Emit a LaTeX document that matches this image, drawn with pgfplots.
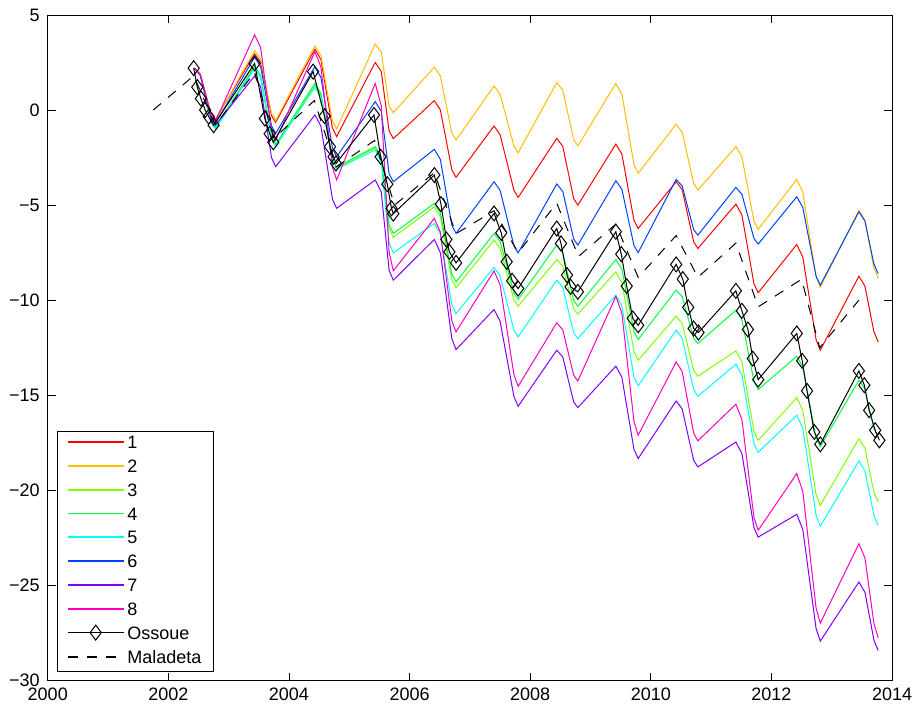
\documentclass[border=0pt]{standalone}
\usepackage{fontspec}
\setmainfont{Liberation Sans}
\usepackage{pgfplots}
\usepackage{pgfplotstable}
\pgfplotsset{compat=1.18}

\definecolor{c1}{rgb}{1,0,0}
\definecolor{c2}{rgb}{1,0.75,0}
\definecolor{c3}{rgb}{0.5,1,0}
\definecolor{c4}{rgb}{0,1,0.25}
\definecolor{c5}{rgb}{0,1,1}
\definecolor{c6}{rgb}{0,0.25,1}
\definecolor{c7}{rgb}{0.5,0,1}
\definecolor{c8}{rgb}{1,0,0.75}

% zones 1..8: peak, shoulder, pre-min, min for each year
\pgfplotstableread{
x r o yg g c b p m
2002.43 2.2 2.2 2.2 2.2 2.2 2.2 2.2 2.2
2002.53 1.88 1.87 1.82 1.83 1.82 1.85 1.84 1.86
2002.71 -0.23 -0.28 -0.64 -0.59 -0.68 -0.41 -0.5 -0.32
2002.78 -0.5 -0.55 -0.95 -0.9 -1.0 -0.7 -0.8 -0.6
2003.43 2.95 3.12 2.2 2.3 2.2 2.77 1.79 3.95
2003.53 2.52 2.68 1.71 1.81 1.71 2.29 1.22 3.28
2003.71 -0.29 -0.18 -1.49 -1.39 -1.49 -0.83 -2.5 -1.05
2003.78 -0.65 -0.55 -1.9 -1.8 -1.9 -1.23 -2.98 -1.6
2004.43 3.2 3.37 1.3 1.4 1.2 2.28 -0.26 3.07
2004.53 2.65 2.85 0.78 0.87 0.68 1.71 -0.85 2.26
2004.72 -0.94 -0.56 -2.62 -2.56 -2.67 -1.99 -4.68 -3.0
2004.79 -1.4 -1.0 -3.06 -3.0 -3.1 -2.46 -5.17 -3.68
2005.43 2.5 3.47 -2.0 -1.93 -2.1 0.44 -3.68 1.4
2005.53 2.02 3.04 -2.56 -2.48 -2.75 -0.07 -4.31 0.22
2005.66 -1.1 0.22 -6.23 -6.03 -6.97 -3.35 -8.42 -7.47
2005.73 -1.5 -0.14 -6.7 -6.49 -7.51 -3.77 -8.95 -8.46
2006.41 0.49 2.25 -5.09 -4.91 -5.96 -2.07 -6.81 -5.7
2006.51 0.01 1.79 -5.6 -5.41 -6.53 -2.6 -7.5 -6.42
2006.70 -3.14 -1.2 -8.92 -8.63 -10.23 -6.05 -12.02 -11.07
2006.77 -3.54 -1.58 -9.35 -9.04 -10.7 -6.49 -12.6 -11.67
2007.40 -0.84 1.26 -6.84 -6.49 -8.28 -3.77 -10.49 -8.46
2007.50 -1.29 0.84 -7.26 -6.91 -8.72 -4.22 -11.1 -9.19
2007.73 -4.22 -1.9 -9.97 -9.61 -11.57 -7.14 -15.07 -13.92
2007.80 -4.6 -2.25 -10.32 -9.96 -11.93 -7.51 -15.58 -14.53
2008.44 -1.49 1.44 -7.86 -7.1 -8.95 -3.89 -12.63 -11.19
2008.54 -1.91 1.04 -8.21 -7.49 -9.32 -4.28 -12.99 -11.56
2008.72 -4.65 -1.56 -10.45 -10.0 -11.71 -6.78 -15.35 -13.94
2008.79 -5.0 -1.89 -10.74 -10.32 -12.02 -7.1 -15.65 -14.25
2009.42 -1.79 1.4 -8.51 -7.86 -9.74 -3.72 -13.47 -9.8
2009.52 -2.32 0.83 -9.07 -8.37 -10.31 -4.17 -14.05 -10.68
2009.72 -5.79 -2.86 -12.70 -11.65 -14.02 -7.12 -17.84 -16.37
2009.79 -6.23 -3.33 -13.16 -12.07 -14.5 -7.5 -18.33 -17.1
2010.42 -3.77 -0.75 -10.84 -9.47 -11.58 -3.65 -15.3 -13.25
2010.52 -4.19 -1.17 -11.22 -9.81 -12.0 -4.0 -15.72 -13.75
2010.71 -6.93 -3.86 -13.68 -12.0 -14.7 -6.29 -18.42 -16.99
2010.78 -7.28 -4.21 -14.0 -12.28 -15.05 -6.58 -18.77 -17.4
2011.41 -4.95 -1.93 -12.67 -10.53 -13.37 -4.07 -17.46 -15.47
2011.51 -5.51 -2.45 -13.23 -11.03 -13.93 -4.43 -18.06 -16.27
2011.71 -9.14 -5.85 -16.9 -14.28 -17.54 -6.75 -21.96 -21.44
2011.78 -9.61 -6.28 -17.37 -14.7 -18.0 -7.05 -22.46 -22.1
2012.42 -7.07 -3.65 -15.12 -12.95 -16.05 -4.56 -21.26 -19.12
2012.52 -7.74 -4.33 -15.80 -13.52 -16.75 -5.12 -22.06 -20.06
2012.74 -12.07 -8.76 -20.22 -17.23 -21.31 -8.74 -27.26 -26.19
2012.81 -12.63 -9.33 -20.79 -17.7 -21.89 -9.21 -27.93 -26.98
2013.45 -8.74 -5.26 -17.28 -14.21 -18.46 -5.35 -24.82 -22.81
2013.55 -9.26 -5.80 -17.78 -14.66 -18.97 -5.84 -25.36 -23.55
2013.70 -11.67 -8.32 -20.11 -16.75 -21.33 -8.11 -27.88 -27.01
2013.77 -12.19 -8.86 -20.61 -17.2 -21.84 -8.6 -28.42 -27.75
}\zones

\pgfplotstableread{
x y
2002.42 2.2
2002.48 1.2
2002.54 0.6
2002.61 0.0
2002.67 -0.35
2002.75 -0.8
2003.43 2.45
2003.60 -0.45
2003.68 -1.25
2003.74 -1.7
2004.40 2.02
2004.59 -0.32
2004.68 -1.93
2004.74 -2.46
2004.78 -2.81
2005.41 -0.26
2005.52 -2.46
2005.63 -3.9
2005.70 -5.17
2005.73 -5.45
2006.41 -3.42
2006.52 -4.95
2006.61 -6.81
2006.66 -7.46
2006.77 -8.04
2007.40 -5.44
2007.52 -6.46
2007.61 -7.98
2007.70 -8.98
2007.80 -9.39
2008.44 -6.23
2008.51 -7.02
2008.61 -8.68
2008.67 -9.3
2008.79 -9.56
2009.42 -6.4
2009.51 -7.58
2009.60 -9.26
2009.70 -10.96
2009.79 -11.32
2010.42 -8.12
2010.53 -8.89
2010.62 -10.38
2010.71 -11.49
2010.79 -11.70
2011.41 -9.51
2011.51 -10.56
2011.61 -11.54
2011.69 -13.07
2011.78 -14.18
2012.42 -11.75
2012.51 -13.19
2012.59 -14.77
2012.71 -16.93
2012.81 -17.58
2013.45 -13.72
2013.54 -14.47
2013.62 -15.79
2013.72 -16.84
2013.79 -17.37
}\ossoue

\pgfplotstableread{
x y
2001.75 0.0
2002.42 1.8
2002.78 -0.8
2003.43 2.0
2003.75 -1.5
2004.42 0.5
2004.78 -3.0
2005.42 -1.6
2005.75 -5.0
2006.41 -3.3
2006.77 -6.5
2007.40 -5.3
2007.80 -7.5
2008.44 -4.9
2008.80 -7.7
2009.42 -6.0
2009.79 -8.8
2010.42 -6.6
2010.78 -8.8
2011.41 -7.0
2011.78 -10.35
2012.50 -8.9
2012.80 -12.5
2013.45 -10.0
}\maladeta

\begin{document}
\begin{tikzpicture}
\begin{axis}[
  scale only axis,
  width=633pt, height=499pt,
  xmin=2000, xmax=2014, ymin=-30, ymax=5,
  xtick={2000,2002,2004,2006,2008,2010,2012,2014},
  xticklabels={2000,2002,2004,2006,2008,2010,2012,2014},
  ytick={-30,-25,-20,-15,-10,-5,0,5},
  yticklabels={−30,−25,−20,−15,−10,−5,0,5},
  tick align=inside,
  major tick length=6pt,
  tick style={black, line width=0.6pt},
  axis line style={black, line width=0.6pt},
  tick label style={font=\fontsize{13.5}{16}\selectfont},
  yticklabel style={xshift=-2.5pt},
  xticklabel style={yshift=-2pt},
  every axis plot/.append style={line width=0.75pt},
  legend style={at={(0.011,0.0135)}, anchor=south west, draw=black,
    line width=0.6pt, font=\fontsize{13.5}{15}\selectfont,
    cells={anchor=west}, row sep=3pt, inner xsep=7pt, inner ysep=2pt},
  legend image code/.code={\draw[mark repeat=2,mark phase=2,#1,line width=1.3pt]
    plot coordinates {(0cm,0.04cm) (0.74cm,0.04cm) (1.48cm,0.04cm)};},
]
\addplot[c1, no marks] table[x=x,y=r] {\zones}; \addlegendentry{1}
\addplot[c2, no marks] table[x=x,y=o] {\zones}; \addlegendentry{2}
\addplot[c3, no marks] table[x=x,y=yg] {\zones}; \addlegendentry{3}
\addplot[c4, no marks] table[x=x,y=g] {\zones}; \addlegendentry{4}
\addplot[c5, no marks] table[x=x,y=c] {\zones}; \addlegendentry{5}
\addplot[c6, no marks] table[x=x,y=b] {\zones}; \addlegendentry{6}
\addplot[c7, no marks] table[x=x,y=p] {\zones}; \addlegendentry{7}
\addplot[c8, no marks] table[x=x,y=m] {\zones}; \addlegendentry{8}
\addplot[black, mark=diamond, mark size=5.6pt, mark options={solid, fill=none, line width=0.75pt}] table {\ossoue}; \addlegendentry{Ossoue}
\addplot[black, dash pattern=on 7.5pt off 7pt, no marks] table {\maladeta}; \addlegendentry{Maladeta}
\coordinate (ll) at (rel axis cs:0,0);
\coordinate (ur) at (rel axis cs:1,1);
\end{axis}
\pgfresetboundingbox
\path (ll) ++(-35.8pt,-18.7pt);
\path (ur) ++(17.2pt,11.2pt);
\end{tikzpicture}
\end{document}
